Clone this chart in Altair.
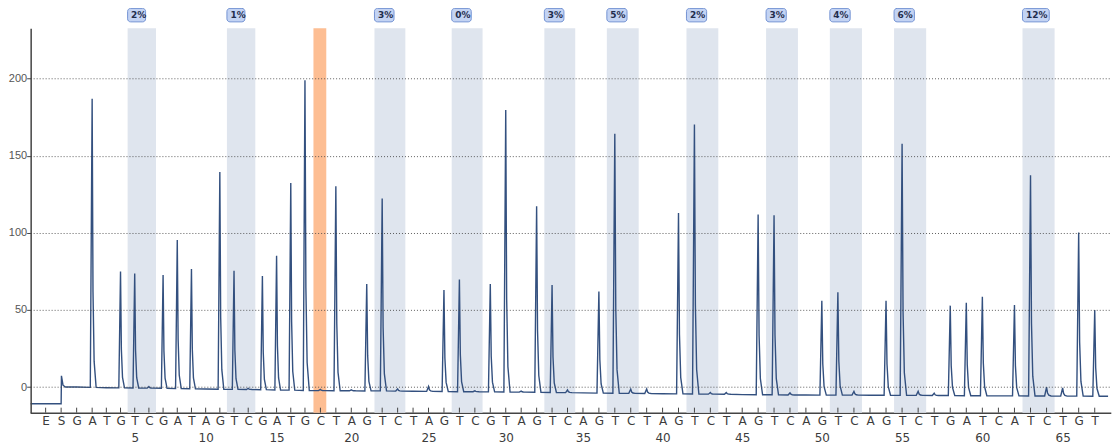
import json
import altair as alt
import pandas as pd

# ---------------- data ----------------
# dispensation order (E = enzyme, S = substrate, then dispensations 1..67)
letters = list("ES") + list(
    "GATGTCGATAGTCGATGCTAGTCTAGTCGTAGTCAGTCTAGTCTAGTCAGTCAGTCTGATCATCTGT"
)
positions = list(range(-1, 68))

# signal level before the substrate step and the small spike at S
pre_level = -10.8
s_spike = 7.3

# baseline level at each dispensation 1..67
baseline = [
    0.0, -0.2, -0.4, -0.5, -0.6, -0.7, -0.8, -1.0, -1.1, -1.3,
    -1.4, -1.5, -1.6, -1.7, -1.9, -2.0, -2.2, -2.3, -2.4, -2.4,
    -2.5, -2.5, -2.6, -2.7, -2.8, -2.9, -3.0, -3.0, -3.1, -3.2,
    -3.3, -3.4, -3.5, -3.6, -3.8, -3.9, -4.0, -4.1, -4.2, -4.3,
    -4.4, -4.5, -4.6, -4.7, -4.9, -5.0, -5.0, -5.1, -5.1, -5.2,
    -5.2, -5.2, -5.3, -5.3, -5.4, -5.4, -5.5, -5.5, -5.6, -5.6,
    -5.7, -5.7, -5.8, -5.8, -5.9, -5.9, -6.0,
]

# peak signal at each dispensation 1..67 (None = no peak)
peaks = [
    None, 187.0, None, 75.0, 73.7, 0.3, 72.6, 95.3, 76.5, None,
    139.4, 75.4, -0.8, 72.0, 85.1, 132.3, 199.0, -1.5, 130.2, -1.8,
    66.8, 122.2, -1.2, None, 0.4, 62.9, 69.8, -2.4, 66.8, 179.7,
    -2.6, 117.2, 66.2, -1.8, None, 61.9, 164.2, -1.3, -1.3, None,
    112.9, 170.3, -3.5, -3.6, None, 111.9, 111.4, -3.8, None, 56.0,
    61.4, -2.8, None, 56.0, 157.8, -2.8, -4.0, 52.8, 54.7, 58.6,
    None, 53.2, 137.3, 0.0, -0.6, 100.2, 50.0,
]

# CpG sites (T/C dispensation pairs) and their methylation values
cpg_pos = [5, 12, 22, 27, 33, 37, 42, 47, 51, 55, 63]
cpg_pct = ["2%", "1%", "3%", "0%", "3%", "5%", "2%", "3%", "4%", "6%", "12%"]

# bisulfite conversion control
ctrl_pos = [18]

# ---------------- build the trace table ----------------
RISE = -0.12
DECAY = [(0.06, 0.33), (0.14, 0.09), (0.28, 0.0)]
END = 67.83

pts = [(-1.97, pre_level), (0.0, pre_level), (0.02, s_spike), (0.12, 1.2), (0.28, baseline[0])]
for i, d in enumerate(range(1, 68)):
    b = baseline[i]
    p = peaks[i]
    if p is None:
        pts.append((d, b))
        continue
    pts.append((d + RISE, b))
    pts.append((d, p))
    for off, frac in DECAY:
        pts.append((d + off, b + frac * (p - b)))
pts.append((END, baseline[-1]))

trace = pd.DataFrame({"x": [p[0] for p in pts], "y": [p[1] for p in pts], "i": range(len(pts))})
bands = pd.DataFrame({"pos": cpg_pos, "pct": cpg_pct})
ctrl = pd.DataFrame({"pos": ctrl_pos})
disp = pd.DataFrame({"pos": positions})

# ---------------- scales / axes ----------------
W, H = 1079.3, 385
xscale = alt.Scale(
    domain=[-2, -1, 2, 17, 35, 50, 67, 68],
    range=[-0.5, 15.0, 61.6, 274.8, 553.3, 792.6, 1066.0, 1082.1],
    nice=False, zero=False,
)
yscale = alt.Scale(domain=[-16.6, 232.6], nice=False, zero=False)

label_expr = (
    "[" + json.dumps(letters).replace('"', "'") + "[datum.value + 1], "
    "(datum.value > 0 && datum.value % 5 == 0) ? '' + datum.value : '']"
)

x_axis = alt.Axis(
    orient="bottom", values=positions, labelExpr=label_expr, ticks=False, grid=False,
    title=None, domainColor="#444444", domainWidth=1.5, labelColor="#3c3c3c",
    labelFontSize=12, labelFont="DejaVu Sans", labelPadding=3, labelLineHeight=17,
    labelOverlap=False, labelFlush=False, labelAngle=0, labelBaseline="top",
)
y_axis = alt.Axis(
    values=[0, 50, 100, 150, 200], grid=True, gridDash=[1, 2], gridColor="#444444",
    gridOpacity=0.85, domainColor="#444444", domainWidth=1.5, tickColor="#444444",
    tickSize=4, labelColor="#555555", labelFontSize=11, labelFont="Liberation Sans",
    labelPadding=0, title=None, zindex=1,
)

band_layer = alt.Chart(bands).transform_calculate(
    lo="datum.pos - 0.5", hi="datum.pos + 1.5"
).mark_rect(color="#dfe5ee").encode(
    x=alt.X("lo:Q", scale=xscale, axis=x_axis), x2="hi:Q"
)

ctrl_layer = alt.Chart(ctrl).transform_calculate(
    lo="datum.pos - 0.45", hi="datum.pos + 0.38"
).mark_rect(color="#fdbe93").encode(
    x=alt.X("lo:Q", scale=xscale, axis=None), x2="hi:Q"
)

trace_layer = alt.Chart(trace).mark_line(
    color="#33507f", strokeWidth=1.4, interpolate="linear"
).encode(
    x=alt.X("x:Q", scale=xscale, axis=None),
    y=alt.Y("y:Q", scale=yscale, axis=y_axis),
    order="i:Q",
)

# small dispensation ticks standing on the x axis line
tick_layer = alt.Chart(disp).mark_rule(color="#444444", strokeWidth=1).encode(
    x=alt.X("pos:Q", scale=xscale, axis=None), y=alt.value(H - 5), y2=alt.value(H)
)

box_layer = alt.Chart(bands).transform_calculate(
    lo="datum.pos - 0.5", hi="datum.pos - 0.5 + (7 + 6 * length(datum.pct)) / 15"
).mark_rect(
    fill="#c3d3f3", stroke="#7393d3", strokeWidth=1, cornerRadius=3
).encode(
    x=alt.X("lo:Q", scale=xscale, axis=None), x2="hi:Q",
    y=alt.value(-20), y2=alt.value(-6.5)
)

text_layer = alt.Chart(bands).transform_calculate(
    lo="datum.pos - 0.5"
).mark_text(
    align="left", baseline="middle", dx=3.5, fontSize=9, fontWeight="bold",
    font="DejaVu Sans", color="#1f2d4d"
).encode(
    x=alt.X("lo:Q", scale=xscale, axis=None), y=alt.value(-13.2), text="pct:N"
)

chart = alt.layer(
    band_layer, ctrl_layer, trace_layer, tick_layer, box_layer, text_layer
).resolve_axis(x="independent").properties(
    width=W, height=H,
    padding={"left": 22.7, "top": 20, "right": 4, "bottom": 34},
    autosize=alt.AutoSizeParams(type="none"),
).configure_view(stroke=None)

chart.save("out.html", embed_options={"renderer": "svg", "actions": False})
